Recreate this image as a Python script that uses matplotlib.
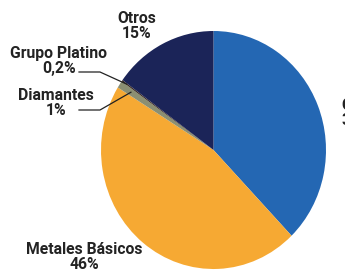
import matplotlib.pyplot as plt
import numpy as np

plt.rcParams["font.family"] = ["Roboto", "DejaVu Sans"]

labels = ["Oro", "Metales Básicos", "Diamantes", "Grupo Platino", "Otros"]
values = [37.8, 46.0, 1.0, 0.2, 15.0]
pct_text = ["38%", "46%", "1%", "0,2%", "15%"]
colors = ["#2467b3", "#f6a933", "#8b8f72", "#3b2a22", "#1b2458"]

W, H = 345, 274
fig = plt.figure(figsize=(W / 100, H / 100), dpi=100)
ax = fig.add_axes([101 / W, 5 / H, 225 / W, 238 / H])
wedges, _ = ax.pie(values, colors=colors, startangle=90, counterclock=False,
                   wedgeprops=dict(linewidth=0))
ax.set_aspect("auto")
ax.set_xlim(-1, 1)
ax.set_ylim(-1, 1)


def fpos(x, y):
    return x / W, 1 - y / H


txt = dict(ha="center", va="center", fontsize=11.3, fontweight="bold",
           color="#232323", linespacing=0.97)

# label blocks (pixel positions)
fig.text(*fpos(137, 26), f"{labels[4]}\n{pct_text[4]}", **txt)
fig.text(*fpos(59, 61), f"{labels[3]}\n{pct_text[3]}", **txt)
fig.text(*fpos(56, 103), f"{labels[2]}\n{pct_text[2]}", **txt)
fig.text(*fpos(84, 257), f"{labels[1]}\n{pct_text[1]}", **txt)
fig.text(*fpos(341, 113), f"{labels[0]}\n{pct_text[0]}", **dict(txt, ha="left"))


def wedge_point(w, r):
    a = np.deg2rad((w.theta1 + w.theta2) / 2)
    return r * np.cos(a), r * np.sin(a)


# leader lines: horizontal from the label, then into the wedge
for idx, ty, r in [(3, 72, 0.95), (2, 110, 0.88)]:
    wx, wy = wedge_point(wedges[idx], r)
    px, py = ax.transData.transform((wx, wy))
    ex, ey = fig.transFigure.inverted().transform((px, py))
    x0, y0 = fpos(79, ty)
    x1, _ = fpos(100, ty)
    fig.add_artist(plt.Line2D([x0, x1, ex], [y0, y0, ey], color="#222222",
                              linewidth=0.9, transform=fig.transFigure))

fig.savefig("out.png", dpi=100)
